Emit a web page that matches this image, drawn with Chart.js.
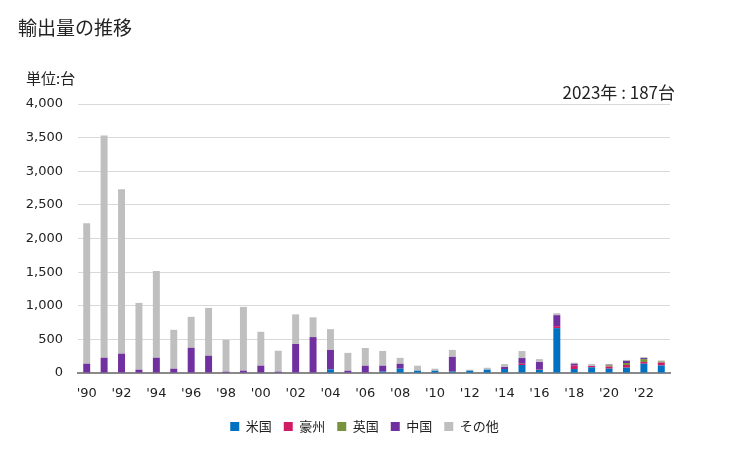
<!DOCTYPE html>
<html>
<head>
<meta charset="utf-8">
<script src="https://cdn.jsdelivr.net/npm/chart.js@4/dist/chart.umd.min.js"></script>
<style>
  body { margin: 0; background: #fff; }
  #wrap { position: relative; width: 729px; height: 450px; }
  canvas { position: absolute; left: 0; top: 0; }
  .txt { position: absolute; font-family: "Noto Sans CJK JP", sans-serif; color: #222; white-space: nowrap; }
  #title { left: 18px; top: 13px; font-size: 19px; }
  #unit { left: 26px; top: 67px; font-size: 15px; }
  #note { right: 54px; top: 79px; font-size: 17px; }
</style>
</head>
<body>
<div id="wrap">
  <canvas id="chart" width="729" height="450"></canvas>
  <div class="txt" id="title">輸出量の推移</div>
  <div class="txt" id="unit">単位:台</div>
  <div class="txt" id="note">2023年 : 187台</div>
</div>
<script>
const years = [];
for (let y = 1990; y <= 2023; y++) years.push("'" + String(y).slice(2));

const seriesNames = ['米国', '豪州', '英国', '中国', 'その他'];
const seriesColors = ['#0070C0', '#D01C65', '#77933C', '#7030A0', '#BFBFBF'];

// 1990 .. 2023
const us    = [0, 0, 0, 0, 0, 0, 0, 0, 0, 0, 0, 0, 0, 0, 54, 0, 0, 20, 64, 34, 34, 20, 34, 49, 59, 119, 49, 667, 59, 84, 64, 79, 138, 112];
const au    = [0, 0, 0, 0, 0, 0, 0, 0, 0, 0, 0, 0, 0, 0, 0, 0, 0, 0, 0, 0, 0, 0, 0, 0, 0, 19, 10, 30, 50, 20, 30, 40, 25, 42];
const uk    = [0, 0, 0, 0, 0, 0, 0, 0, 0, 0, 0, 0, 0, 0, 0, 0, 0, 0, 0, 0, 0, 0, 0, 0, 0, 0, 0, 0, 0, 0, 20, 30, 44, 16];
const china = [138, 227, 287, 49, 227, 64, 375, 257, 20, 35, 109, 20, 431, 534, 289, 34, 108, 88, 73, 0, 0, 220, 0, 0, 30, 84, 104, 163, 29, 0, 10, 30, 15, 2];
const other = [2090, 3305, 2445, 993, 1290, 578, 460, 711, 474, 948, 504, 311, 441, 294, 309, 265, 264, 220, 88, 74, 30, 103, 15, 29, 44, 104, 44, 29, 15, 30, 10, 15, 15, 15];

const seriesData = [us, au, uk, china, other];

const tickFont = { family: 'DejaVu Sans', size: 13 };

new Chart(document.getElementById('chart'), {
  type: 'bar',
  data: {
    labels: years,
    datasets: seriesNames.map((name, i) => ({
      label: name,
      data: seriesData[i],
      backgroundColor: seriesColors[i],
      categoryPercentage: 1,
      barPercentage: 0.4
    }))
  },
  options: {
    responsive: false,
    animation: false,
    layout: { padding: { top: 104, left: 0, right: 0, bottom: 7 } },
    plugins: {
      legend: {
        position: 'bottom',
        labels: {
          boxWidth: 9,
          boxHeight: 9,
          padding: 12,
          color: '#222',
          font: { family: 'Noto Sans CJK JP', size: 13 }
        }
      },
      tooltip: { enabled: false }
    },
    scales: {
      x: {
        stacked: true,
        grid: { display: false, drawTicks: false },
        border: { color: '#898989', width: 2 },
        ticks: {
          color: '#222',
          font: tickFont,
          padding: 13,
          autoSkip: false,
          maxRotation: 0,
          callback: (v, i) => (i % 2 === 0 ? years[i] : '')
        },
        afterFit: s => { s.height = 35; }
      },
      y: {
        stacked: true,
        min: 0,
        max: 4000,
        grid: { color: '#D9D9D9', drawTicks: false },
        border: { display: false },
        ticks: {
          stepSize: 500,
          color: '#222',
          font: tickFont,
          padding: 15,
          callback: v => v.toLocaleString('en-US')
        },
        afterFit: s => { s.width = 78; }
      },
      // empty right-hand axis, only keeps space so the legend stays centred on the page
      yRight: {
        position: 'right',
        display: true,
        grid: { display: false, drawTicks: false },
        border: { display: false },
        ticks: { display: false },
        afterFit: s => { s.width = 59; }
      }
    }
  }
});
</script>
</body>
</html>
